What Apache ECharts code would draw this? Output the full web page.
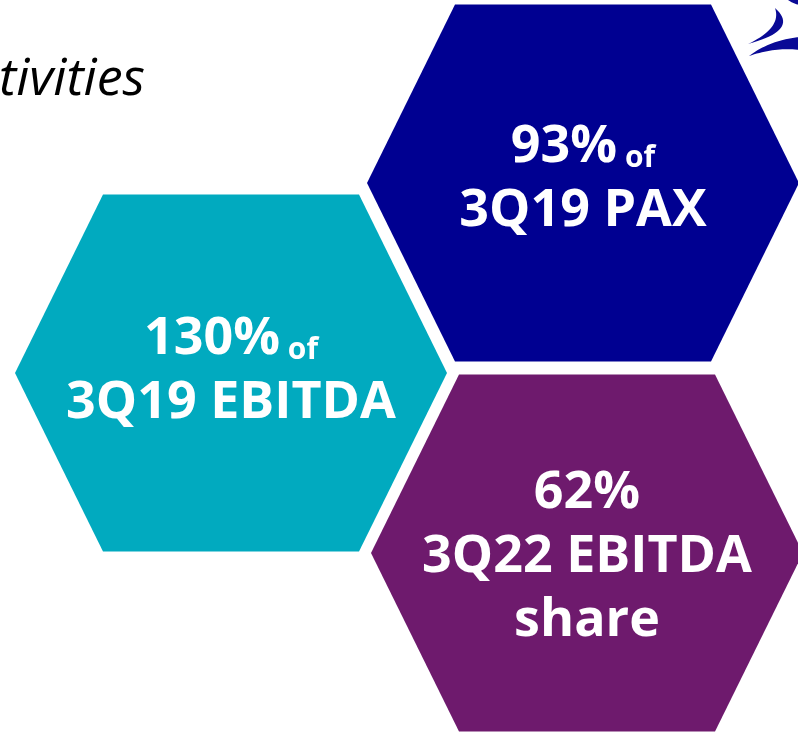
<!DOCTYPE html>
<html>
<head>
<meta charset="utf-8">
<script src="https://cdn.jsdelivr.net/npm/echarts@6/dist/echarts.min.js"></script>
<style>
html,body{margin:0;padding:0;background:#fff;}
#chart{width:798px;height:734px;}
</style>
</head>
<body>
<div id="chart"></div>
<script>
// ---- data ----
const categories = ['3Q19 PAX', '3Q19 EBITDA', '3Q22 EBITDA share'];
const percentValues = [93, 130, 62];
const valueSuffix = ['of', 'of', ''];
const subtitleLines = [['3Q19 PAX'], ['3Q19 EBITDA'], ['3Q22 EBITDA', 'share']];
const honeycombCol = [1, 0, 1];
const honeycombRow = [-1, 0, 1];
const headingText = 'tivities';

// ---- styles ----
const hexColors = ['#000091', '#01AABF', '#6E1A6D'];
const itemOffsets = [[-2, 0], [0, 5], [2, 0]];
const labelOffsets = [[0, -4], [0, -2], [0, 4]];
const hexPath = 'path://M88,0 L344,0 L432,178.5 L344,357 L88,357 L0,178.5 Z';
const logoColor = '#0a0a96';

// quadratic curve sampler for logo decoration
function quad(p0, c, p1, n) {
  const pts = [];
  for (let k = 0; k <= n; k++) {
    const t = k / n, u = 1 - t;
    pts.push([u*u*p0[0] + 2*u*t*c[0] + t*t*p1[0], u*u*p0[1] + 2*u*t*c[1] + t*t*p1[1]]);
  }
  return pts;
}
const swoosh1 = quad([775, 8], [800, 30], [748, 44], 20).concat(quad([748, 44], [782, 28], [775, 8], 20));
const swoosh2 = quad([749, 56], [770, 40], [800, 37], 20).concat([[800, 50]]).concat(quad([800, 50], [775, 47], [749, 56], 20));
const swoosh3 = [[788, 0], [800, 0], [800, 5]].concat(quad([800, 5], [794, 4], [788, 0], 10));

const chart = echarts.init(document.getElementById('chart'));

const data = percentValues.map((v, i) => ({
  name: categories[i],
  value: [honeycombCol[i], honeycombRow[i], v],
  symbolOffset: itemOffsets[i],
  itemStyle: { color: hexColors[i], opacity: 1 },
  label: { offset: labelOffsets[i] }
}));

chart.setOption({
  backgroundColor: '#ffffff',
  animation: false,
  title: {
    text: headingText,
    right: 653,
    top: 50,
    padding: 0,
    textStyle: {
      fontFamily: 'Open Sans',
      fontStyle: 'italic',
      fontWeight: 'normal',
      fontSize: 52,
      lineHeight: 60,
      color: '#000'
    }
  },
  grid: { left: 231, right: 213, top: 183, bottom: 181 },
  xAxis: { type: 'value', min: 0, max: 1, show: false },
  yAxis: { type: 'value', min: -1, max: 1, inverse: true, show: false },
  series: [{
    type: 'scatter',
    symbol: hexPath,
    symbolSize: [432, 357],
    silent: true,
    itemStyle: { opacity: 1 },
    data: data,
    label: {
      show: true,
      position: 'inside',
      align: 'center',
      verticalAlign: 'middle',
      opacity: 1,
      formatter: function (p) {
        const i = p.dataIndex;
        let first = '{big|' + p.value[2] + '%}';
        if (valueSuffix[i]) first += '{small| ' + valueSuffix[i] + '}';
        const rest = subtitleLines[i].map(s => '{big|' + s + '}');
        return [first].concat(rest).join('\n');
      },
      rich: {
        big: {
          fontFamily: 'Open Sans',
          fontWeight: 'bold',
          fontSize: 52,
          lineHeight: 64,
          color: '#fff'
        },
        small: {
          fontFamily: 'Open Sans',
          fontWeight: 'bold',
          fontSize: 30,
          lineHeight: 64,
          color: '#fff',
          verticalAlign: 'bottom',
          padding: [0, 0, 6, 0]
        }
      }
    }
  }],
  graphic: [
    { type: 'polygon', shape: { points: swoosh1 }, style: { fill: logoColor } },
    { type: 'polygon', shape: { points: swoosh2 }, style: { fill: logoColor } },
    { type: 'polygon', shape: { points: swoosh3 }, style: { fill: logoColor } }
  ]
});
</script>
</body>
</html>
